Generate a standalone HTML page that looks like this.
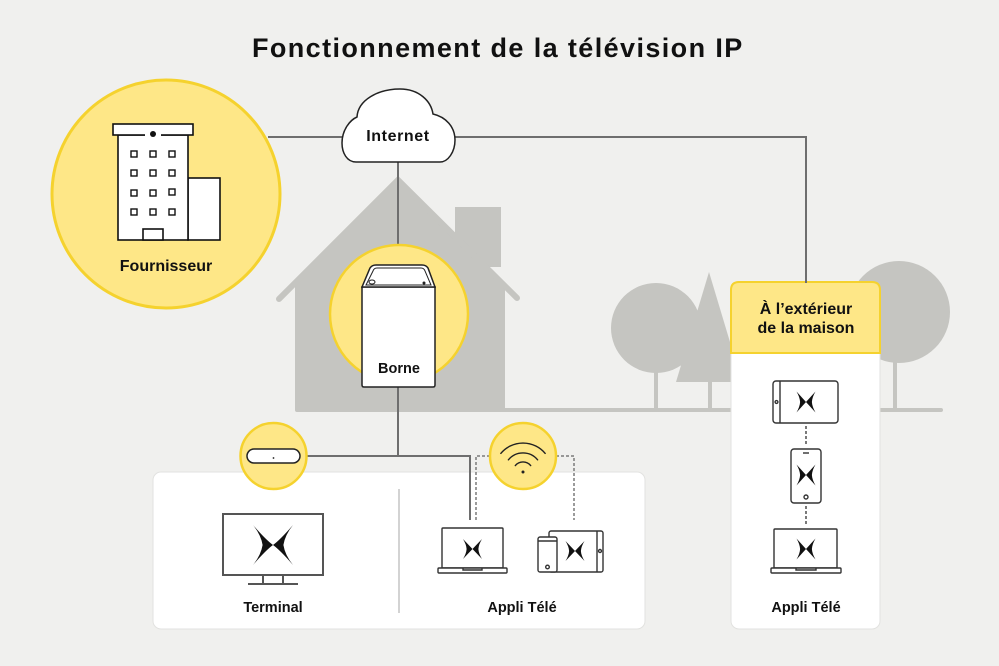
<!DOCTYPE html>
<html><head><meta charset="utf-8"><style>
html,body{margin:0;padding:0;background:#f0f0ee;}
svg{display:block;}
text{font-family:"Liberation Sans",sans-serif;font-weight:bold;fill:#111;}
</style></head><body>
<svg width="999" height="666" viewBox="0 0 999 666" xmlns="http://www.w3.org/2000/svg">
<rect width="999" height="666" fill="#f0f0ee"/>

<!-- title -->
<text x="252" y="57" font-size="27" letter-spacing="1.4">Fonctionnement de la télévision IP</text>

<!-- trees -->
<g fill="#c5c5c1">
<circle cx="656" cy="328" r="45"/>
<rect x="654" y="370" width="4" height="40"/>
<polygon points="709,272 676,382 742,382"/>
<rect x="708" y="380" width="4" height="30"/>
<circle cx="899" cy="312" r="51"/>
<rect x="893" y="360" width="4" height="50"/>
<rect x="295" y="408" width="648" height="4" rx="2"/>
<!-- house -->
<polygon points="398,180 295,283 295,410 505,410 505,287"/>
<rect x="455" y="207" width="46" height="60"/>
</g>
<polyline points="279,299 398,180 517,298" fill="none" stroke="#c5c5c1" stroke-width="6" stroke-linecap="round"/>

<!-- bottom panel -->
<rect x="153" y="472" width="492" height="157" rx="8" fill="#fff" stroke="#e2e2e0" stroke-width="1"/>
<line x1="399" y1="489" x2="399" y2="613" stroke="#c4c4c4" stroke-width="1.5"/>

<!-- right panel -->
<rect x="731" y="282" width="149" height="347" rx="8" fill="#fff" stroke="#e2e2e0" stroke-width="1"/>
<path d="M731 353 V290 Q731 282 739 282 H872 Q880 282 880 290 V353 Z" fill="#fee787" stroke="#f5d22e" stroke-width="2"/>
<text x="806" y="314" font-size="16" text-anchor="middle">À l’extérieur</text>
<text x="806" y="333" font-size="16" text-anchor="middle">de la maison</text>

<!-- connectors -->
<g fill="none" stroke="#6e6e6e" stroke-width="2">
<path d="M268 137 H346 M451 137 H806 V283"/>
<path d="M398 160 V246"/>
<path d="M398 386 V456 M300 456 H470 V520"/>
</g>
<g fill="none" stroke="#7a7a7a" stroke-width="1.5" stroke-dasharray="3 2">
<path d="M490 456 H476 V520 M556 456 H574 V520"/>
</g>
<g fill="none" stroke="#222" stroke-width="1.2" stroke-dasharray="3 2">
<path d="M806 426 V446 M806 506 V526"/>
</g>

<!-- Fournisseur circle -->
<circle cx="166" cy="194" r="114" fill="#fee787" stroke="#f5d22e" stroke-width="3"/>
<g fill="#fff" stroke="#111" stroke-width="1.6">
<rect x="188" y="178" width="32" height="62"/>
<rect x="118" y="135" width="70" height="105"/>
<rect x="113" y="124" width="80" height="11"/>
<rect x="143" y="229" width="20" height="11"/>
</g>
<rect x="145" y="133" width="16" height="4" fill="#fff"/>
<circle cx="153" cy="134" r="3" fill="#111"/>
<g fill="#fff" stroke="#111" stroke-width="1.4">
<rect x="131" y="151" width="6" height="6"/><rect x="150" y="151" width="6" height="6"/><rect x="169" y="151" width="6" height="6"/>
<rect x="131" y="170" width="6" height="6"/><rect x="150" y="170" width="6" height="6"/><rect x="169" y="170" width="6" height="6"/>
<rect x="131" y="190" width="6" height="6"/><rect x="150" y="190" width="6" height="6"/><rect x="169" y="189" width="6" height="6"/>
<rect x="131" y="209" width="6" height="6"/><rect x="150" y="209" width="6" height="6"/><rect x="169" y="209" width="6" height="6"/>
</g>
<text x="166" y="271" font-size="16" text-anchor="middle">Fournisseur</text>

<!-- cloud -->
<path d="M356 162 C347 162 342 153 342 143 C342 130 350 120 357 117 C358 100 378 89 400 89 C419 89 431 101 433 114 C446 117 455 127 455 140 C455 152 448 162 440 162 Z" fill="#fff" stroke="#222" stroke-width="1.5"/>
<text x="398" y="141" font-size="16" text-anchor="middle" letter-spacing="0.6">Internet</text>

<!-- Borne -->
<circle cx="399" cy="314" r="69" fill="#fee787" stroke="#f5d22e" stroke-width="2.5"/>
<path d="M362 287 H435 V385 Q435 387 433 387 H364 Q362 387 362 385 Z" fill="#fff" stroke="#222" stroke-width="1.5"/>
<path d="M362 287 L370 268 Q372 265 376 265 H422 Q426 265 428 268 L435 287 Z" fill="#fff" stroke="#222" stroke-width="1.5"/>
<path d="M366 285 L373 271 Q374 268 377 268 H421 Q424 268 425 271 L431 285 Z" fill="none" stroke="#222" stroke-width="1"/>
<ellipse cx="372" cy="282" rx="3" ry="2" fill="none" stroke="#222" stroke-width="1"/>
<circle cx="424" cy="283" r="1.5" fill="#222"/>
<text x="399" y="373" font-size="14.5" text-anchor="middle">Borne</text>

<!-- terminal box circle -->
<circle cx="273.5" cy="456" r="33" fill="#fee787" stroke="#f5d22e" stroke-width="2.5"/>
<rect x="247" y="449" width="53" height="14" rx="7" fill="#fff" stroke="#222" stroke-width="1.5"/>
<circle cx="273.5" cy="458" r="0.9" fill="#222"/>

<!-- wifi circle -->
<circle cx="523" cy="456" r="33" fill="#fee787" stroke="#f5d22e" stroke-width="2.5"/>
<g fill="none" stroke="#222" stroke-width="1.4" stroke-linecap="round">
<path d="M500.8 453.4 A29 29 0 0 1 545.2 453.4"/>
<path d="M508.4 459.8 A19 19 0 0 1 537.6 459.8"/>
<path d="M515.3 465.6 A10 10 0 0 1 530.7 465.6"/>
</g>
<circle cx="523" cy="472" r="1.5" fill="#222"/>

<!-- Terminal monitor -->
<g fill="#fff" stroke="#555" stroke-width="2">
<rect x="223" y="514" width="100" height="61"/>
<path d="M263 575 V584 M283 575 V584 M248 584 H298" fill="none"/>
</g>
<path transform="translate(273,545) scale(20,20)" d="M-1,-1 Q-0.35,-0.25 0,0 Q-0.35,0.25 -1,1 Q-0.6,0.5 -0.52,0 Q-0.6,-0.5 -1,-1 Z M1,-1 Q0.35,-0.25 0,0 Q0.35,0.25 1,1 Q0.6,0.5 0.52,0 Q0.6,-0.5 1,-1 Z" fill="#111"/>
<text x="273" y="612" font-size="14.5" text-anchor="middle">Terminal</text>

<!-- laptop (bottom) -->
<g fill="#fff" stroke="#333" stroke-width="1.4">
<rect x="442" y="528" width="61" height="40" rx="1"/>
<rect x="438" y="568" width="69" height="5" rx="1"/>
<path d="M463 568 V570 H482 V568" fill="none"/>
</g>
<path transform="translate(472.5,549) scale(9.5,10)" d="M-1,-1 Q-0.3,-0.3 0,0 Q-0.3,0.3 -1,1 Q-0.65,0.45 -0.62,0 Q-0.65,-0.45 -1,-1 Z M1,-1 Q0.3,-0.3 0,0 Q0.3,0.3 1,1 Q0.65,0.45 0.62,0 Q0.65,-0.45 1,-1 Z" fill="#111"/>

<!-- tablet + phone (bottom) -->
<g fill="#fff" stroke="#333" stroke-width="1.4">
<rect x="549" y="531" width="54" height="41" rx="2"/>
<line x1="597" y1="531" x2="597" y2="572"/>
<circle cx="600" cy="551" r="1.5"/>
</g>
<path transform="translate(575,551) scale(9.5,10)" d="M-1,-1 Q-0.3,-0.3 0,0 Q-0.3,0.3 -1,1 Q-0.65,0.45 -0.62,0 Q-0.65,-0.45 -1,-1 Z M1,-1 Q0.3,-0.3 0,0 Q0.3,0.3 1,1 Q0.65,0.45 0.62,0 Q0.65,-0.45 1,-1 Z" fill="#111"/>
<g fill="#fff" stroke="#333" stroke-width="1.4">
<rect x="538" y="537" width="19" height="35" rx="2"/>
<line x1="538" y1="541" x2="557" y2="541"/>
<circle cx="547.5" cy="567" r="1.8"/>
</g>
<text x="522" y="612" font-size="14.5" text-anchor="middle">Appli Télé</text>

<!-- right panel devices -->
<g fill="#fff" stroke="#333" stroke-width="1.4">
<rect x="773" y="381" width="65" height="42" rx="3"/>
<line x1="780" y1="381" x2="780" y2="423"/>
<circle cx="776.5" cy="402" r="1.4"/>
<rect x="791" y="449" width="30" height="54" rx="3"/>
<line x1="803" y1="453" x2="809" y2="453"/>
<circle cx="806" cy="497" r="2"/>
<rect x="774" y="529" width="63" height="39" rx="1"/>
<rect x="771" y="568" width="70" height="5" rx="1"/>
<path d="M796 568 V570 H816 V568" fill="none"/>
</g>
<g fill="#111">
<path transform="translate(806,402) scale(9.5,10.5)" d="M-1,-1 Q-0.3,-0.3 0,0 Q-0.3,0.3 -1,1 Q-0.65,0.45 -0.62,0 Q-0.65,-0.45 -1,-1 Z M1,-1 Q0.3,-0.3 0,0 Q0.3,0.3 1,1 Q0.65,0.45 0.62,0 Q0.65,-0.45 1,-1 Z"/>
<path transform="translate(806,475) scale(9.5,10.5)" d="M-1,-1 Q-0.3,-0.3 0,0 Q-0.3,0.3 -1,1 Q-0.65,0.45 -0.62,0 Q-0.65,-0.45 -1,-1 Z M1,-1 Q0.3,-0.3 0,0 Q0.3,0.3 1,1 Q0.65,0.45 0.62,0 Q0.65,-0.45 1,-1 Z"/>
<path transform="translate(806,549) scale(9.5,10.5)" d="M-1,-1 Q-0.3,-0.3 0,0 Q-0.3,0.3 -1,1 Q-0.65,0.45 -0.62,0 Q-0.65,-0.45 -1,-1 Z M1,-1 Q0.3,-0.3 0,0 Q0.3,0.3 1,1 Q0.65,0.45 0.62,0 Q0.65,-0.45 1,-1 Z"/>
</g>
<text x="806" y="612" font-size="14.5" text-anchor="middle">Appli Télé</text>
</svg>
</body></html>
